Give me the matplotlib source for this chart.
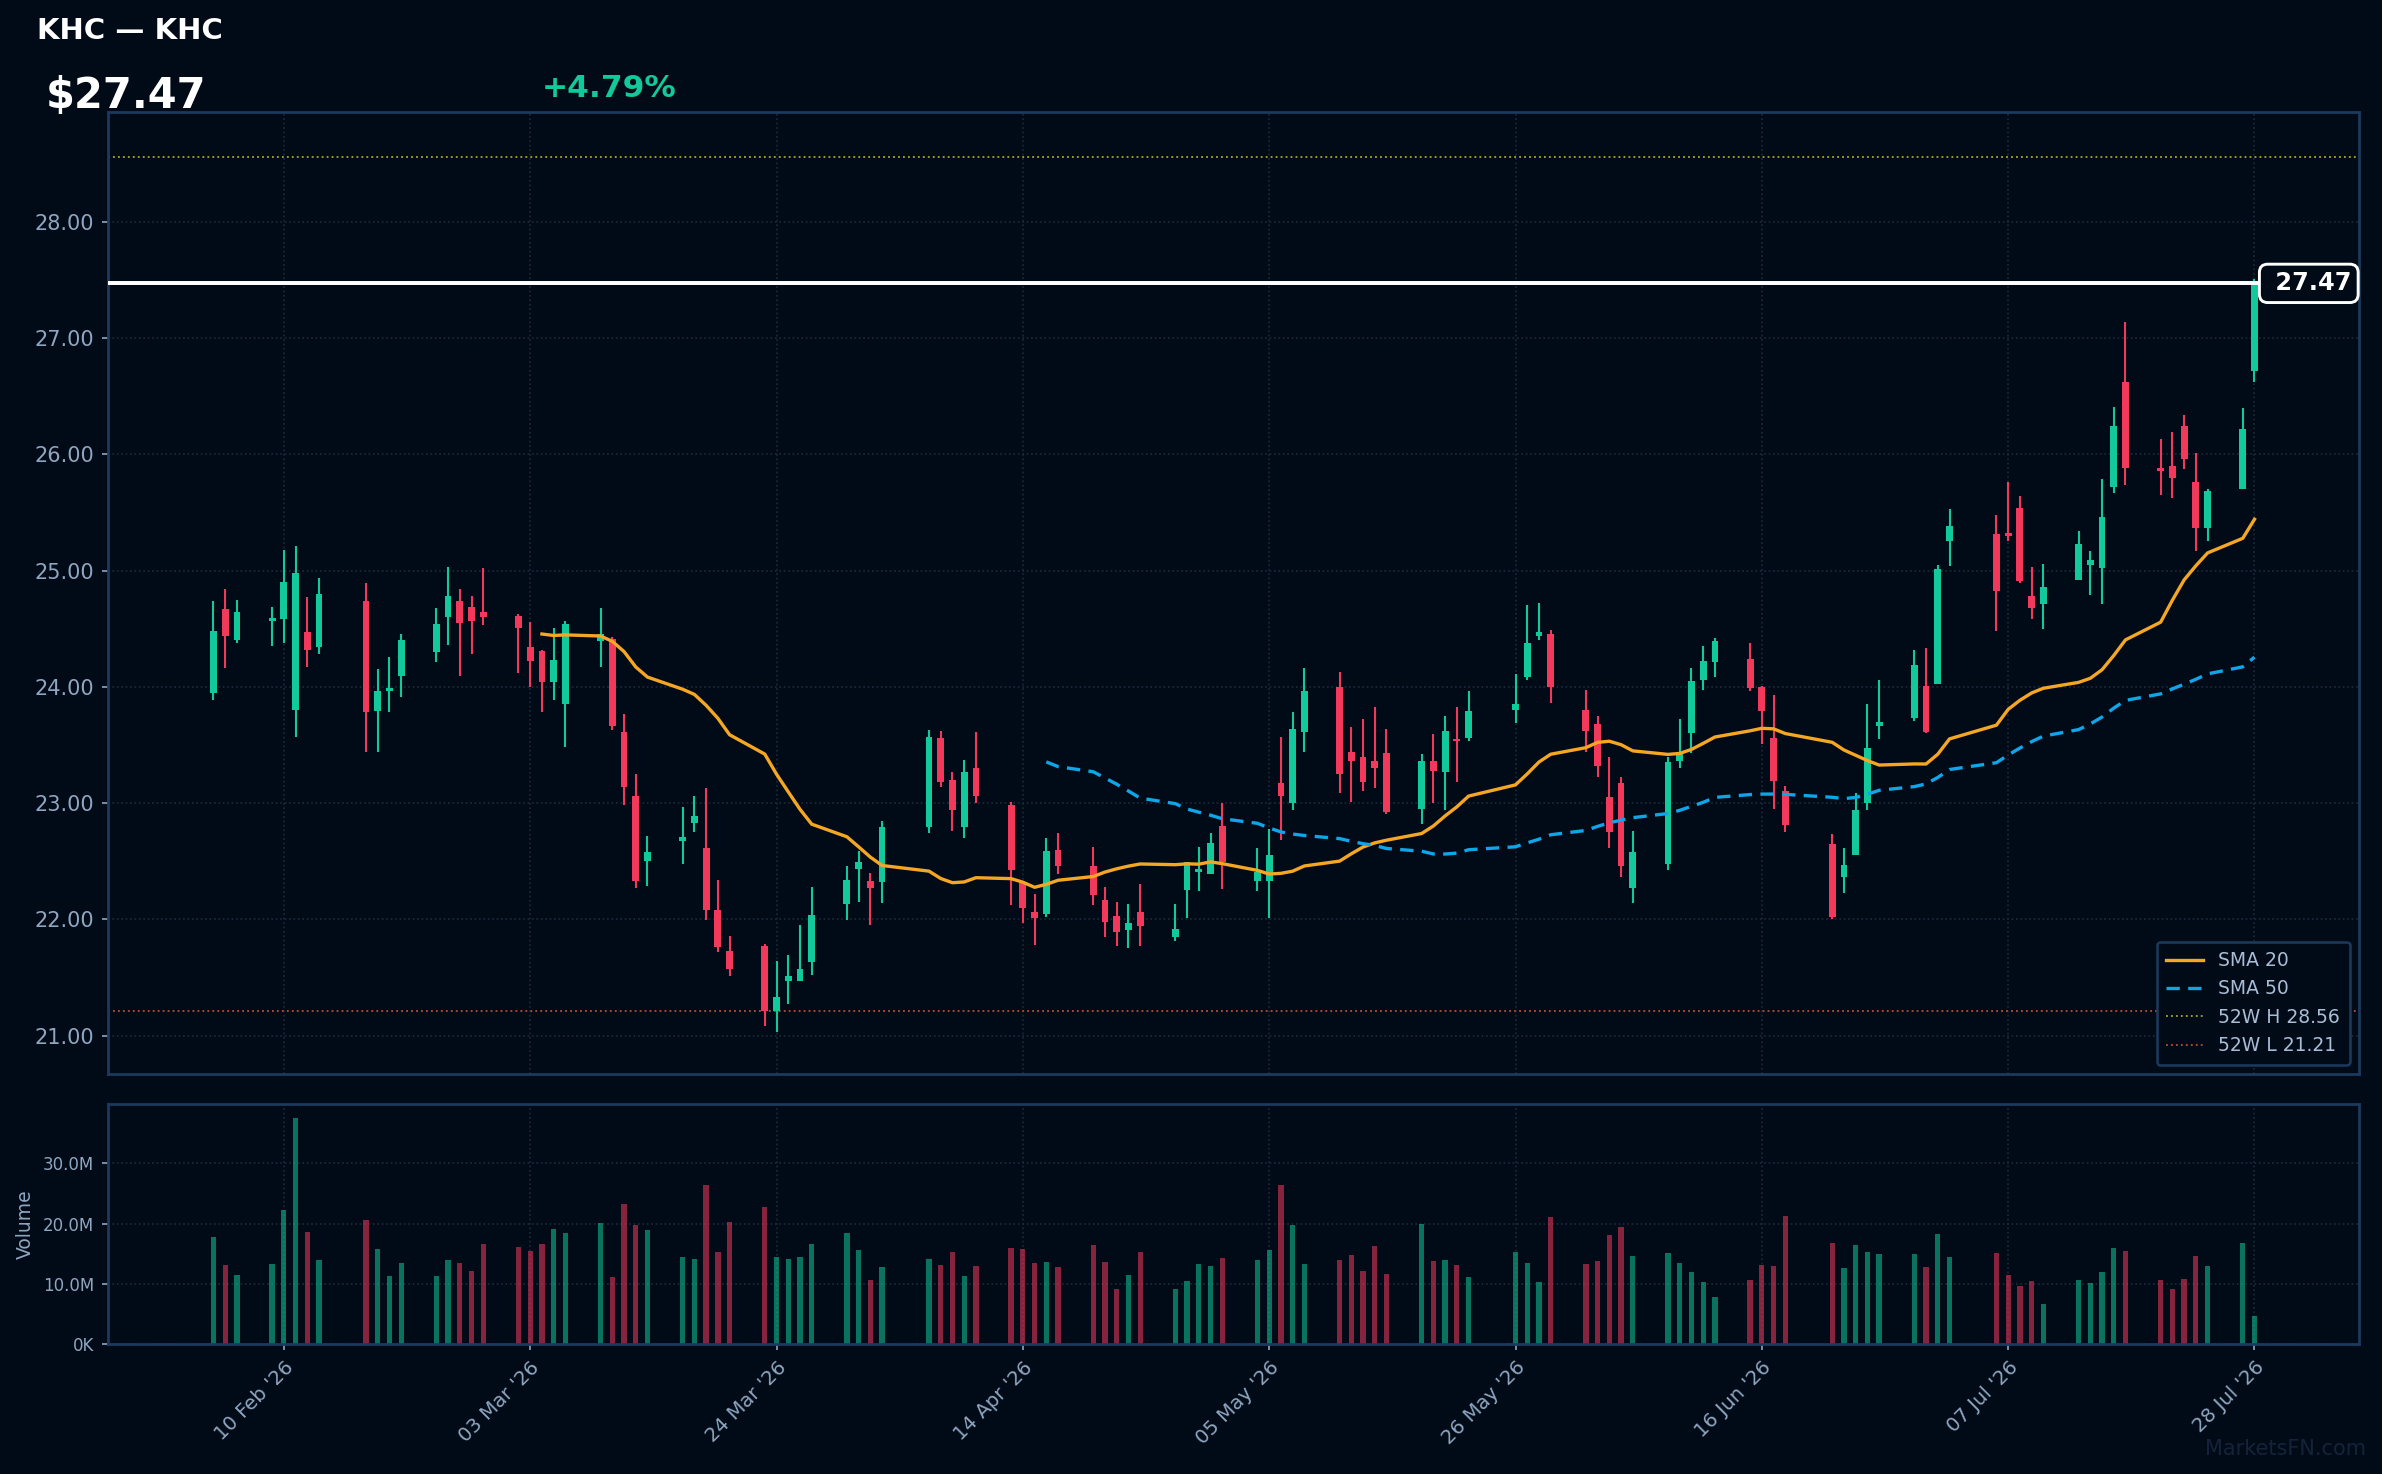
import numpy as np
import pandas as pd
import matplotlib
matplotlib.use('Agg')
import matplotlib.pyplot as plt
import matplotlib.dates as mdates
from matplotlib.ticker import FuncFormatter

# --- data ---
ticker = 'KHC'
holidays = ['2026-02-16', '2026-04-03', '2026-05-25', '2026-06-19', '2026-07-03']
dates = pd.bdate_range('2026-02-04', '2026-07-28', freq='C', holidays=holidays)

opens = [23.95, 24.67, 24.40, 24.57, 24.58, 23.80, 24.47, 24.34, 24.74, 23.79,
         23.96, 24.09, 24.30, 24.60, 24.74, 24.69, 24.64, 24.61, 24.34, 24.31,
         24.04, 23.85, 24.39, 24.41, 23.61, 23.06, 22.50, 22.67, 22.83, 22.61,
         22.08, 21.73, 21.77, 21.21, 21.47, 21.47, 21.63, 22.13, 22.43, 22.33,
         22.32, 22.79, 23.56, 23.20, 22.79, 23.30, 22.98, 22.31, 22.06, 22.05,
         22.60, 22.46, 22.17, 22.03, 21.91, 22.06, 21.85, 22.25, 22.41, 22.39,
         22.80, 22.33, 22.33, 23.17, 23.00, 23.61, 24.00, 23.44, 23.40, 23.36,
         23.43, 22.95, 23.36, 23.27, 23.54, 23.56, 23.80, 24.08, 24.44, 24.45,
         23.80, 23.68, 23.05, 23.17, 22.27, 22.48, 23.36, 23.60, 24.06, 24.21,
         24.24, 24.00, 23.56, 23.10, 22.65, 22.36, 22.55, 23.00, 23.66, 23.73,
         24.01, 24.02, 25.25, 25.31, 25.32, 25.54, 24.78, 24.71, 24.92, 25.05,
         25.02, 25.72, 26.62, 25.88, 25.90, 26.24, 25.76, 25.37, 25.70, 26.72]
highs = [24.74, 24.84, 24.75, 24.69, 25.18, 25.21, 24.77, 24.94, 24.89, 24.15,
         24.26, 24.45, 24.68, 25.03, 24.84, 24.78, 25.02, 24.63, 24.56, 24.32,
         24.51, 24.57, 24.68, 24.43, 23.77, 23.25, 22.72, 22.97, 23.06, 23.13,
         22.34, 21.86, 21.79, 21.64, 21.69, 21.95, 22.28, 22.46, 22.59, 22.40,
         22.85, 23.63, 23.62, 23.27, 23.37, 23.61, 23.01, 22.31, 22.22, 22.70,
         22.74, 22.62, 22.28, 22.15, 22.13, 22.30, 22.13, 22.49, 22.62, 22.74,
         23.00, 22.61, 22.78, 23.57, 23.78, 24.16, 24.13, 23.65, 23.72, 23.83,
         23.64, 23.42, 23.59, 23.75, 23.83, 23.96, 24.11, 24.70, 24.72, 24.49,
         23.97, 23.75, 23.40, 23.22, 22.76, 23.40, 23.72, 24.16, 24.35, 24.42,
         24.38, 24.01, 23.93, 23.15, 22.73, 22.61, 23.09, 23.85, 24.06, 24.32,
         24.33, 25.05, 25.53, 25.48, 25.76, 25.64, 25.03, 25.06, 25.34, 25.17,
         25.79, 26.41, 27.14, 26.13, 26.19, 26.34, 26.01, 25.70, 26.40, 27.51]
lows = [23.89, 24.16, 24.38, 24.35, 24.38, 23.57, 24.17, 24.28, 23.44, 23.44,
        23.78, 23.91, 24.21, 24.36, 24.09, 24.28, 24.53, 24.12, 24.00, 23.78,
        23.89, 23.48, 24.17, 23.63, 22.98, 22.27, 22.29, 22.48, 22.75, 21.99,
        21.72, 21.51, 21.08, 21.03, 21.27, 21.47, 21.52, 21.99, 22.15, 21.95,
        22.14, 22.74, 23.14, 22.76, 22.70, 23.00, 22.12, 21.97, 21.78, 22.02,
        22.39, 22.12, 21.85, 21.77, 21.75, 21.77, 21.81, 22.01, 22.24, 22.39,
        22.26, 22.24, 22.01, 22.68, 22.94, 23.44, 23.09, 23.01, 23.10, 23.13,
        22.91, 22.82, 23.00, 22.94, 23.18, 23.53, 23.69, 24.06, 24.40, 23.86,
        23.44, 23.22, 22.61, 22.36, 22.14, 22.42, 23.30, 23.43, 23.97, 24.08,
        23.96, 23.51, 22.95, 22.75, 22.00, 22.23, 22.55, 22.94, 23.55, 23.71,
        23.60, 24.02, 25.04, 24.48, 25.25, 24.89, 24.58, 24.50, 24.92, 24.79,
        24.71, 25.67, 25.74, 25.65, 25.62, 25.87, 25.17, 25.25, 25.70, 26.62]
closes = [24.48, 24.44, 24.64, 24.58, 24.90, 24.98, 24.32, 24.80, 23.78, 23.96,
          23.99, 24.40, 24.54, 24.78, 24.55, 24.57, 24.60, 24.51, 24.22, 24.04,
          24.23, 24.54, 24.45, 23.66, 23.14, 22.33, 22.58, 22.71, 22.89, 22.08,
          21.76, 21.57, 21.21, 21.33, 21.51, 21.57, 22.04, 22.34, 22.49, 22.27,
          22.79, 23.57, 23.18, 22.94, 23.27, 23.06, 22.42, 22.10, 22.01, 22.59,
          22.46, 22.21, 21.98, 21.89, 21.97, 21.94, 21.92, 22.49, 22.43, 22.66,
          22.49, 22.41, 22.55, 23.06, 23.64, 23.96, 23.25, 23.36, 23.18, 23.30,
          22.92, 23.36, 23.28, 23.62, 23.53, 23.79, 23.85, 24.38, 24.47, 24.00,
          23.62, 23.32, 22.75, 22.46, 22.58, 23.35, 23.42, 24.05, 24.22, 24.39,
          23.99, 23.79, 23.19, 22.81, 22.02, 22.47, 22.94, 23.47, 23.70, 24.19,
          23.61, 25.01, 25.38, 24.82, 25.30, 24.91, 24.68, 24.86, 25.23, 25.09,
          25.46, 26.24, 25.88, 25.86, 25.80, 25.96, 25.37, 25.68, 26.215, 27.47]
volumes_m = [17.87, 13.11, 11.48,
             13.28, 22.30, 37.54, 18.69, 13.93,
             20.66, 15.74, 11.31, 13.44,
             11.31, 13.93, 13.44, 12.13, 16.56,
             16.07, 15.41, 16.56, 19.18, 18.52,
             20.16, 11.15, 23.28, 19.84, 19.02,
             14.43, 14.10, 26.39, 15.25, 20.33,
             22.79, 14.43, 14.10, 14.43, 16.56,
             18.52, 15.57, 10.66, 12.79,
             14.10, 13.11, 15.25, 11.31, 12.95,
             15.90, 15.74, 13.44, 13.61, 12.79,
             16.39, 13.61, 9.18, 11.48, 15.25,
             9.18, 10.49, 13.28, 12.95, 14.26,
             13.93, 15.57, 26.39, 19.84, 13.28,
             13.93, 14.75, 12.13, 16.23, 11.64,
             20.00, 13.77, 13.93, 13.11, 11.15,
             15.25, 13.44, 10.33, 21.15,
             13.28, 13.77, 18.20, 19.51, 14.59,
             15.08, 13.44, 11.97, 10.33, 7.87,
             10.66, 13.11, 12.95, 21.31,
             16.72, 12.62, 16.39, 15.25, 14.92,
             14.92, 12.79, 18.36, 14.43,
             15.08, 11.48, 9.67, 10.49, 6.72,
             10.66, 10.16, 11.97, 15.90, 15.41,
             10.66, 9.18, 10.82, 14.59, 12.95,
             16.72, 4.75]
high_52w = 28.56
low_52w = 21.21

# --- styling ---
BG = '#010b17'
UP = '#12c99b'
DOWN = '#f2395c'
SPINE = '#1c3a5e'
GRID = '#1b2a3c'
TXT = '#8fa6c1'

df = pd.DataFrame({'o': opens, 'h': highs, 'l': lows, 'c': closes,
                   'v': np.array(volumes_m) * 1e6}, index=dates)
sma20 = df['c'].rolling(20).mean()
sma50 = df['c'].rolling(50).mean()
last = df['c'].iloc[-1]
chg = (df['c'].iloc[-1] / df['c'].iloc[-2] - 1) * 100

x = mdates.date2num(df.index.to_pydatetime())
up = df['c'] >= df['o']
cols = np.where(up, UP, DOWN)

fig = plt.figure(figsize=(15.88, 9.8267), dpi=150, facecolor=BG)
ax = fig.add_axes([0.0453, 0.2714, 0.9450, 0.6523])
axv = fig.add_axes([0.0453, 0.0880, 0.9450, 0.1628], sharex=ax)
for a in (ax, axv):
    a.set_facecolor(BG)
    for s in a.spines.values():
        s.set_color(SPINE)
        s.set_linewidth(1.3)
    a.grid(True, color=GRID, linestyle=':', linewidth=0.8)
    a.set_axisbelow(True)
    a.tick_params(colors=TXT, labelsize=10, length=3)

# candles
ax.vlines(x, df['l'], df['h'], colors=cols, linewidth=1.0, zorder=2)
body = np.maximum((df['c'] - df['o']).abs(), 0.02)
ax.bar(x, body, bottom=np.minimum(df['o'], df['c']), width=0.58,
       color=cols, linewidth=0, zorder=3)

ax.plot(x, sma20, color='#f5a623', linewidth=1.6, label='SMA 20', zorder=4)
ax.plot(x, sma50, color='#0ea5e9', linewidth=1.6, linestyle=(0, (4, 2.5)),
        label='SMA 50', zorder=4)
ax.axhline(high_52w, color='#a3a01c', linewidth=0.9, linestyle=':',
           label=f'52W H {high_52w:.2f}', zorder=1)
ax.axhline(low_52w, color='#b04a30', linewidth=0.9, linestyle=':',
           label=f'52W L {low_52w:.2f}', zorder=1)
ax.axhline(last, color='white', linewidth=1.9, zorder=5)
ax.text(0.959, last, f' {last:.2f}', transform=ax.get_yaxis_transform(),
        ha='left', va='center', color='white', fontsize=11.5, fontweight='bold',
        zorder=6, bbox=dict(boxstyle='round,pad=0.3,rounding_size=0.35',
                            fc=BG, ec='white', lw=1.4))

ax.set_ylim(20.67, 28.94)
ax.set_yticks(np.arange(21, 29, 1))
ax.yaxis.set_major_formatter(FuncFormatter(lambda v, p: f'{v:.2f}'))
ax.set_xlim(x[0] - 9, x[-1] + 8.9)
plt.setp(ax.get_xticklabels(), visible=False)
ax.tick_params(axis='x', length=0)

leg = ax.legend(loc='lower right', fontsize=9, facecolor=BG, edgecolor=SPINE,
                labelcolor='#a9bdd6', framealpha=1.0, borderpad=0.5,
                handlelength=2.0, labelspacing=0.5, borderaxespad=0.5)
leg.get_frame().set_linewidth(1.2)

# volume
axv.bar(x, df['v'], width=0.45, color=cols, alpha=0.55, linewidth=0)
axv.set_ylim(0, df['v'].max() * 1.06)
axv.set_yticks([0, 10e6, 20e6, 30e6])
axv.yaxis.set_major_formatter(FuncFormatter(
    lambda v, p: f'{v / 1e6:.1f}M' if v >= 1e6 else f'{v / 1e3:.0f}K'))
axv.tick_params(axis='y', labelsize=8)
axv.set_ylabel('Volume', color=TXT, fontsize=9)
ticks = pd.date_range('2026-02-10', periods=9, freq='21D')
axv.set_xticks(mdates.date2num(ticks.to_pydatetime()))
axv.set_xticklabels([t.strftime("%d %b '%y") for t in ticks], rotation=45,
                    ha='right', rotation_mode='anchor', fontsize=9.5, color=TXT)

# header
fig.text(37 / 2382, 1 - 17 / 1474, f'{ticker} \u2014 {ticker}', va='top',
         color='white', fontsize=14, fontweight='bold')
fig.text(46 / 2382, 1 - 108 / 1474, f'${last:.2f}', va='baseline',
         color='white', fontsize=20, fontweight='bold')
fig.text(542 / 2382, 1 - 97 / 1474, f'{chg:+.2f}%', va='baseline',
         color=UP, fontsize=15, fontweight='bold')
fig.text(0.9933, 0.0129, 'MarketsFN.com', ha='right', va='baseline',
         color='#15233a', fontsize=10)

fig.savefig('out.png', dpi=150, facecolor=BG)
